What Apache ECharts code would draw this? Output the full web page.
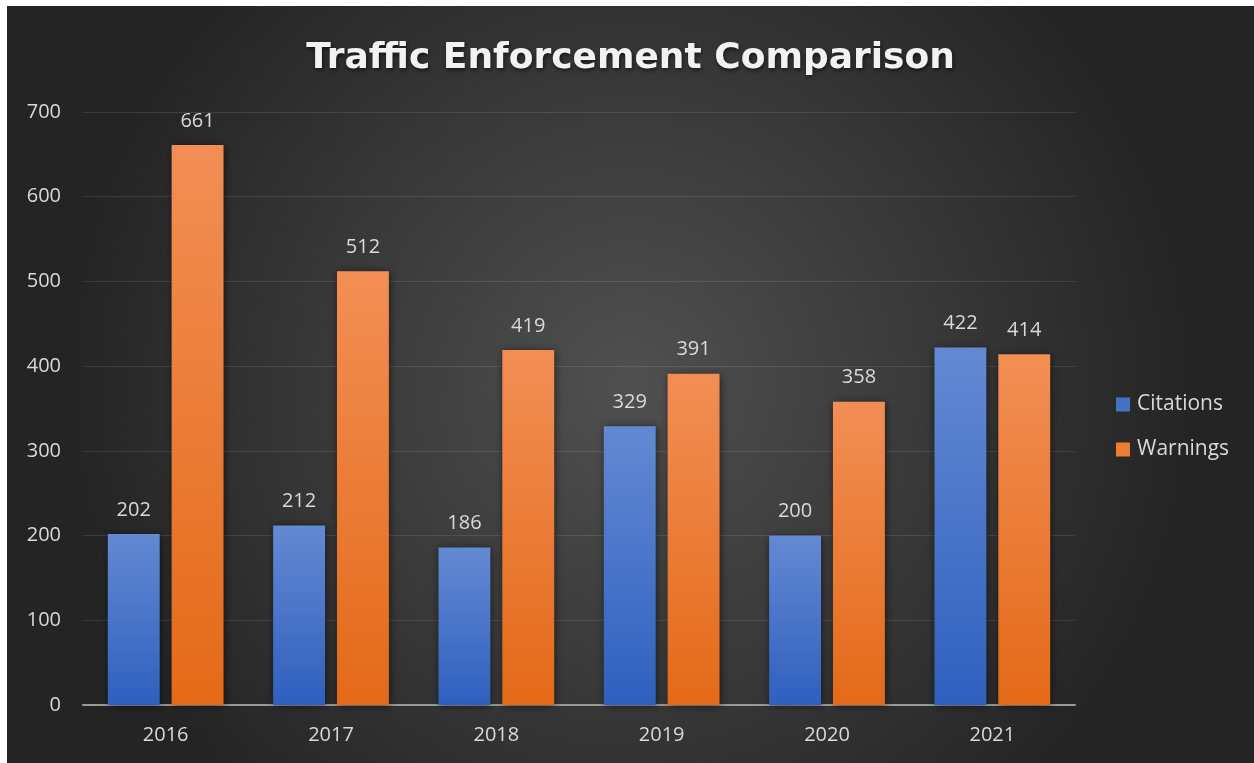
<!DOCTYPE html>
<html>
<head>
<meta charset="utf-8">
<script src="https://cdn.jsdelivr.net/npm/echarts@6/dist/echarts.min.js"></script>
<style>
    html, body { margin: 0; padding: 0; background: #ffffff; }
    #chart { position: absolute; left: 7px; top: 6px; width: 1247px; height: 757px; }
</style>
</head>
<body>
<div id="chart"></div>
<script>
const years = ["2016", "2017", "2018", "2019", "2020", "2021"];
const citations = [202, 212, 186, 329, 200, 422];
const warnings = [661, 512, 419, 391, 358, 414];

const labelColor = "#d9d9d9";
const fontFamily = "'Open Sans', 'Noto Sans', sans-serif";

const barGradient = (top, bottom) =>
    new echarts.graphic.LinearGradient(0, 0, 0, 1, [
        { offset: 0, color: top },
        { offset: 1, color: bottom },
    ]);

const makeSeries = (name, data, top, bottom) => ({
    name,
    type: "bar",
    data,
    barGap: "23%",
    barCategoryGap: "30%",
    itemStyle: {
        color: barGradient(top, bottom),
        shadowColor: "rgba(0,0,0,0.55)",
        shadowBlur: 8,
        shadowOffsetX: 1,
        shadowOffsetY: 1,
    },
    label: {
        show: true,
        position: "top",
        distance: 14,
        color: labelColor,
        fontSize: 20,
        fontFamily,
    },
});

const chart = echarts.init(document.getElementById("chart"), null, { renderer: "canvas" });

chart.setOption({
    backgroundColor: {
        type: "radial",
        x: 0.5,
        y: 0.5,
        r: 0.75,
        colorStops: [
            { offset: 0, color: "#505050" },
            { offset: 1, color: "#242424" },
        ],
    },
    title: {
        text: "Traffic Enforcement Comparison",
        left: "center",
        top: 30,
        textStyle: {
            color: "#f2f2f2",
            fontSize: 36,
            fontWeight: "bold",
            fontFamily: "'DejaVu Sans', sans-serif",
            textShadowColor: "rgba(0,0,0,0.6)",
            textShadowBlur: 4,
            textShadowOffsetX: 1,
            textShadowOffsetY: 2,
        },
    },
    legend: {
        orient: "vertical",
        left: 1104,
        top: 383,
        itemWidth: 14,
        itemHeight: 14,
        itemGap: 24,
        icon: "rect",
        textStyle: { color: labelColor, fontSize: 21, fontFamily, padding: [0, 0, 0, 2] },
        data: [
            { name: "Citations", itemStyle: { color: "#4472c4" } },
            { name: "Warnings", itemStyle: { color: "#ed7d31" } },
        ],
    },
    grid: {
        left: 76,
        right: 179,
        top: 106,
        bottom: 58,
        containLabel: false,
    },
    xAxis: {
        type: "category",
        data: years,
        axisLine: { lineStyle: { color: "#9a9a9a", width: 2 } },
        axisTick: { show: false },
        axisLabel: { color: labelColor, fontSize: 20, fontFamily, margin: 20 },
    },
    yAxis: {
        type: "value",
        min: 0,
        max: 700,
        interval: 100,
        axisLine: { show: false },
        axisTick: { show: false },
        axisLabel: { color: labelColor, fontSize: 20, fontFamily, margin: 22 },
        splitLine: { lineStyle: { color: "rgba(255,255,255,0.1)", width: 1 } },
    },
    series: [
        makeSeries("Citations", citations, "#6389d2", "#2f60bf"),
        makeSeries("Warnings", warnings, "#f28e55", "#e46a18"),
    ],
});
</script>
</body>
</html>
